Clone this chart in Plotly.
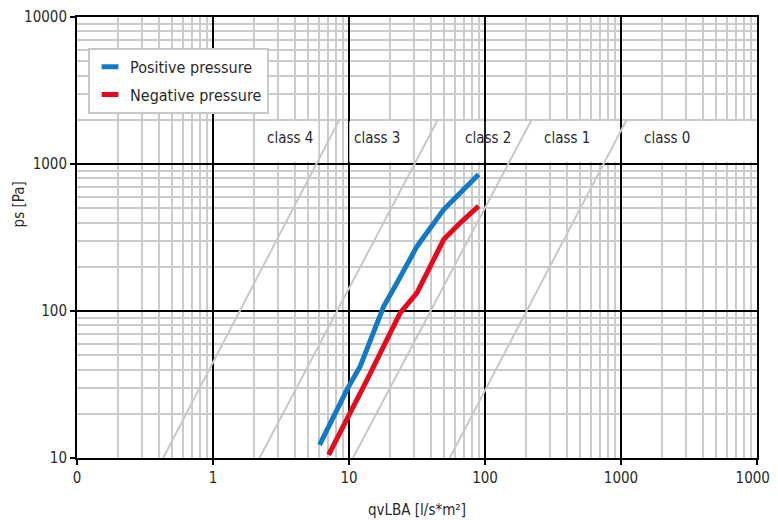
import numpy as np
import plotly.graph_objects as go

# ---------------- data ----------------
pos_q = [6.08, 9.66, 12.1, 14.4, 18.0, 22.5, 31.6, 49.7, 65.8, 89.7]
pos_p = [12.3, 29.2, 42.1, 63.8, 107.6, 155, 275, 490, 637, 849]
neg_q = [7.08, 9.93, 13.6, 19.0, 23.8, 31.6, 39.6, 49.7, 65.8, 89.7]
neg_p = [10.5, 19.2, 34.1, 63.8, 97.1, 133, 201, 306, 398, 517]

class_p = [10, 2000]
class4_q = [0.43, 8.5]
class3_q = [2.2, 45]
class2_q = [10.7, 220]
class1_q = [55, 1100]

class_names = ["class 4", "class 3", "class 2", "class 1", "class 0"]
class_label_q = [3.70, 16.1, 105.6, 403, 2188]
class_label_p = 1494

x_tickvals = [0.1, 1, 10, 100, 1000, 10000]
x_ticktext = ["0", "1", "10", "100", "1000", "10000"]
y_tickvals = [10, 100, 1000, 10000]
y_ticktext = ["10", "100", "1000", "10000"]

# ---------------- styling ----------------
FONT = "DejaVu Sans Condensed, DejaVu Sans, sans-serif"
TXT = "#2a2a2a"
GRID_MINOR = "#cbcbcb"
BLUE = "#1279c6"
RED = "#e30b1c"

x_minor = [m * 10.0 ** e for e in range(-1, 4) for m in range(2, 10)]
y_minor = [m * 10.0 ** e for e in range(1, 4) for m in range(2, 10)]

fig = go.Figure()

for cq in [class4_q, class3_q, class2_q, class1_q]:
    fig.add_trace(go.Scatter(x=cq, y=class_p, mode="lines",
                             line=dict(color="#c8c8c8", width=2),
                             showlegend=False, hoverinfo="skip"))

fig.add_trace(go.Scatter(x=pos_q, y=pos_p, mode="lines", name="Positive pressure",
                         line=dict(color=BLUE, width=5), showlegend=False))
fig.add_trace(go.Scatter(x=neg_q, y=neg_p, mode="lines", name="Negative pressure",
                         line=dict(color=RED, width=5), showlegend=False))

# legend entries (short thick bars)
for name, col, grp in [("Positive pressure", BLUE, "pos"), ("Negative pressure", RED, "neg")]:
    fig.add_trace(go.Scatter(x=[None], y=[None], mode="markers", name=name,
                             legendgroup=grp,
                             marker=dict(symbol="line-ew", size=12,
                                         line=dict(width=5, color=col))))

# white label boxes (above grid, below traces)
boxes = [(2.15, 5.94), (10.05, 27.7), (63.7, 98.5), (101.5, 167), (182, 955), (1130, 9930)]
for x0, x1 in boxes:
    fig.add_shape(type="rect", xref="x", yref="y", x0=x0, x1=x1, y0=1030, y1=1950,
                  fillcolor="white", line=dict(width=0), layer="between")

for name, q in zip(class_names, class_label_q):
    fig.add_annotation(x=np.log10(q), y=np.log10(class_label_p), xref="x", yref="y",
                       text=name, showarrow=False,
                       font=dict(family=FONT, size=15, color=TXT))

fig.add_annotation(x=-0.086, y=0.574, xref="paper", yref="paper", text="ps [Pa]",
                   textangle=-90, showarrow=False, xanchor="center", yanchor="middle",
                   font=dict(family=FONT, size=15, color=TXT))

fig.update_xaxes(type="log", range=[-1, 4], tickvals=x_tickvals, ticktext=x_ticktext,
                 automargin=False, ticklabeloverflow="allow",
                 showgrid=True, gridcolor="black", gridwidth=2,
                 showline=True, linecolor="black", linewidth=2, mirror=True,
                 ticks="outside", ticklen=5, tickcolor="black", tickwidth=1.5,
                 tickfont=dict(family=FONT, size=15, color=TXT),
                 minor=dict(tickvals=x_minor, showgrid=True, gridcolor=GRID_MINOR,
                            gridwidth=1.5, ticks=""),
                 zeroline=False,
                 title=dict(text="qvLBA [l/s*m²]", standoff=18,
                            font=dict(family=FONT, size=15, color=TXT)))
fig.update_yaxes(type="log", range=[1, 4], tickvals=y_tickvals, ticktext=y_ticktext,
                 automargin=False, ticklabeloverflow="allow",
                 showgrid=True, gridcolor="black", gridwidth=2,
                 showline=True, linecolor="black", linewidth=2, mirror=True,
                 ticks="outside", ticklen=5, tickcolor="black", tickwidth=1.5,
                 tickfont=dict(family=FONT, size=15, color=TXT),
                 minor=dict(tickvals=y_minor, showgrid=True, gridcolor=GRID_MINOR,
                            gridwidth=1.5, ticks=""),
                 zeroline=False)

# the page body has an 8px margin, so the figure is sized/offset to compensate
fig.update_layout(
    width=770, height=512,
    margin=dict(l=69, r=21, t=9, b=62, autoexpand=False),
    paper_bgcolor="white", plot_bgcolor="white",
    font=dict(family=FONT, size=15, color=TXT),
    legend=dict(x=0.0162, y=0.93, xanchor="left", yanchor="top",
                bgcolor="white", bordercolor="#c8c8c8", borderwidth=2,
                traceorder="grouped", tracegroupgap=4,
                font=dict(family=FONT, size=16, color=TXT)),
)

fig.write_html("out.html")
